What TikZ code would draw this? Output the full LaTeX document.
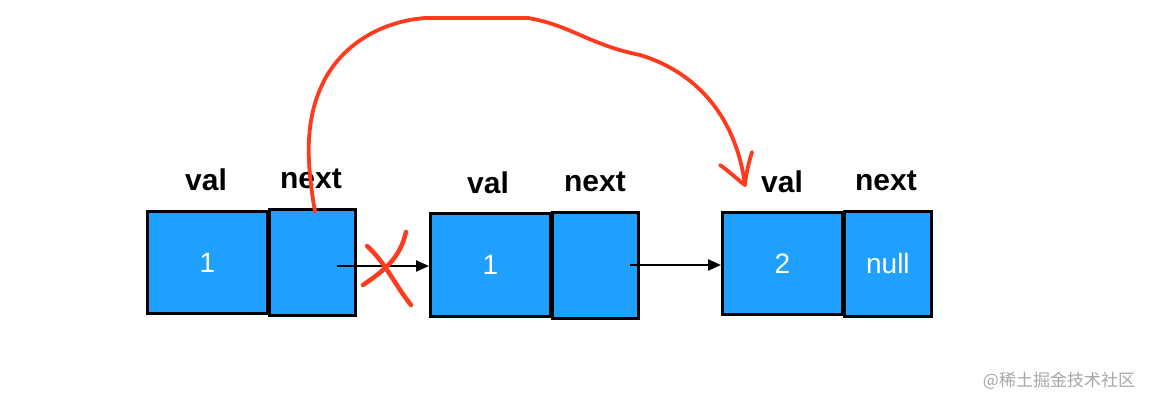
\documentclass[tikz,border=0pt]{standalone}
\usepackage{fontspec}
\setmainfont{Liberation Sans}
\newfontfamily\cjk{Noto Sans CJK SC}
\usetikzlibrary{arrows.meta}
\definecolor{boxblue}{HTML}{1FA0FF}
\definecolor{penred}{HTML}{FF3B1F}
\begin{document}
\begin{tikzpicture}[x=1pt,y=-1pt,
  cell/.style={draw=black,fill=boxblue,line width=2.8pt,inner sep=0pt,anchor=north west,
    text=white,font=\fontsize{28}{28}\selectfont},
  lbl/.style={font=\bfseries\fontsize{30}{30}\selectfont,text=black},
  ptr/.style={-{Triangle[length=13pt,width=11pt]},line width=2.2pt},
  pen/.style={penred,line width=4pt,line cap=round,line join=round}]
\useasboundingbox (0,0) rectangle (1152,404);
% group 1
\node[cell,minimum width=120pt,minimum height=102pt] (v1) at (146,210) {1};
\node[cell,minimum width=86pt,minimum height=106pt] (n1) at (268,208) {};
\node[lbl] (lv1) at (206,180) {val};
\node[lbl] (ln1) at (311,179) {next};
% group 2
\node[cell,minimum width=120pt,minimum height=103pt] (v2) at (429,212) {1};
\node[cell,minimum width=86pt,minimum height=106pt] (n2) at (551,211) {};
\node[lbl] (lv2) at (488,183) {val};
\node[lbl] (ln2) at (595,182) {next};
% group 3
\node[cell,minimum width=120pt,minimum height=102pt] (v3) at (721,211) {2};
\node[cell,minimum width=87pt,minimum height=105pt] (n3) at (843,210) {null};
\node[lbl] (lv3) at (782,182) {val};
\node[lbl] (ln3) at (886,181) {next};
% pointers
\coordinate (p1) at (337,266);
\coordinate (p2) at (630,265);
\draw[ptr] (p1) -- (v2.west |- p1);
\draw[ptr] (p2) -- (v3.west |- p2);
% cross
\draw[pen,line width=4.5pt] (367,246) .. controls (385,262) and (395,285) .. (411,305);
\draw[pen,line width=4.5pt] (406,232) .. controls (400,258) and (385,270) .. (363,285);
% red curve
\coordinate (rs) at (315,212);
\coordinate (re) at (745,185);
\draw[pen,line width=3.8pt] (rs) .. controls (308,170) and (303,125) .. (322,85)
  .. controls (338,50) and (375,22) .. (425,18)
  -- (528,18)
  .. controls (570,25) and (590,45) .. (640,55)
  .. controls (690,70) and (735,110) .. (re);
\draw[pen,line width=3.8pt] (720,165) .. controls (730,172) and (738,180) .. (re);
\draw[pen,line width=3.8pt] (752,152) .. controls (748,165) and (746,175) .. (re);
% watermark
\node[text=black!35,font=\cjk\fontsize{17}{17}\selectfont] (wm) at (1059,381) {@稀土掘金技术社区};
\end{tikzpicture}
\end{document}
